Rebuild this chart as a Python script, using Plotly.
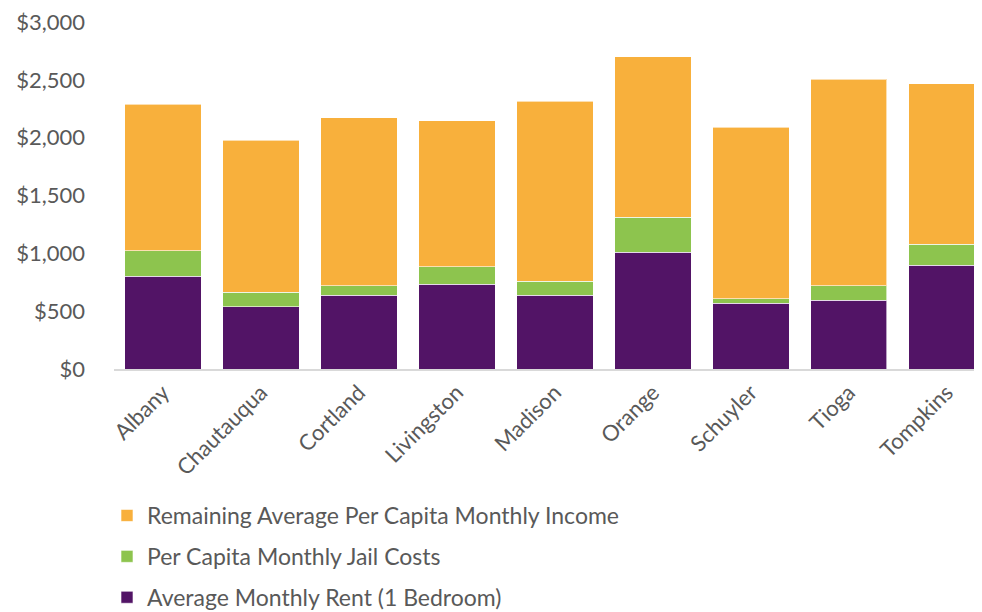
import plotly.graph_objects as go

counties = ["Albany", "Chautauqua", "Cortland", "Livingston", "Madison",
            "Orange", "Schuyler", "Tioga", "Tompkins"]
rent = [803, 538, 637, 732, 637, 1011, 568, 596, 899]
jail = [219, 125, 83, 152, 123, 302, 39, 124, 181]
remaining = [1265, 1315, 1454, 1261, 1553, 1385, 1484, 1786, 1385]

tick_vals = [0, 500, 1000, 1500, 2000, 2500, 3000]
tick_text = ["$0", "$500", "$1,000", "$1,500", "$2,000", "$2,500", "$3,000"]

FONT = "Lato"
GREY = "#595959"
EDGE = "rgba(255,255,255,0.6)"

fig = go.Figure()
fig.add_trace(go.Bar(x=counties, y=rent, name="Average Monthly Rent (1 Bedroom)",
                     marker=dict(color="#521466", line=dict(color=EDGE, width=1)),
                     legendgroup="a", legendrank=3))
fig.add_trace(go.Bar(x=counties, y=jail, name="Per Capita Monthly Jail Costs",
                     marker=dict(color="#8DC44E", line=dict(color=EDGE, width=1)),
                     legendgroup="b", legendrank=2))
fig.add_trace(go.Bar(x=counties, y=remaining, name="Remaining Average Per Capita Monthly Income",
                     marker=dict(color="#F8B03C", line=dict(color=EDGE, width=1)),
                     legendgroup="c", legendrank=1))

fig.update_layout(
    width=982, height=612,
    barmode="stack", bargap=0.22,
    paper_bgcolor="white", plot_bgcolor="white",
    margin=dict(l=106, r=8, t=14, b=251, autoexpand=False),
    font=dict(family=FONT, color=GREY),
    showlegend=True,
    legend=dict(
        xref="container", yref="container",
        x=99 / 982, y=1 - 486 / 612, xanchor="left", yanchor="top",
        traceorder="grouped", tracegroupgap=8,
        font=dict(family=FONT, size=23, color=GREY),
        itemwidth=30,
    ),
    xaxis=dict(
        range=[-0.5, 8.36],
        tickangle=-45,
        tickfont=dict(family=FONT, size=22, color=GREY),
        showline=True, linecolor="#d9d9d9", linewidth=2,
        ticks="", showgrid=False,
    ),
    yaxis=dict(
        range=[0, 3000],
        tickvals=tick_vals, ticktext=tick_text,
        tickfont=dict(family=FONT, size=22, color=GREY),
        showgrid=False, zeroline=False, showline=False,
        ticklabelstandoff=28,
        ticklabeloverflow="allow",
    ),
)

fig.write_html("out.html")
